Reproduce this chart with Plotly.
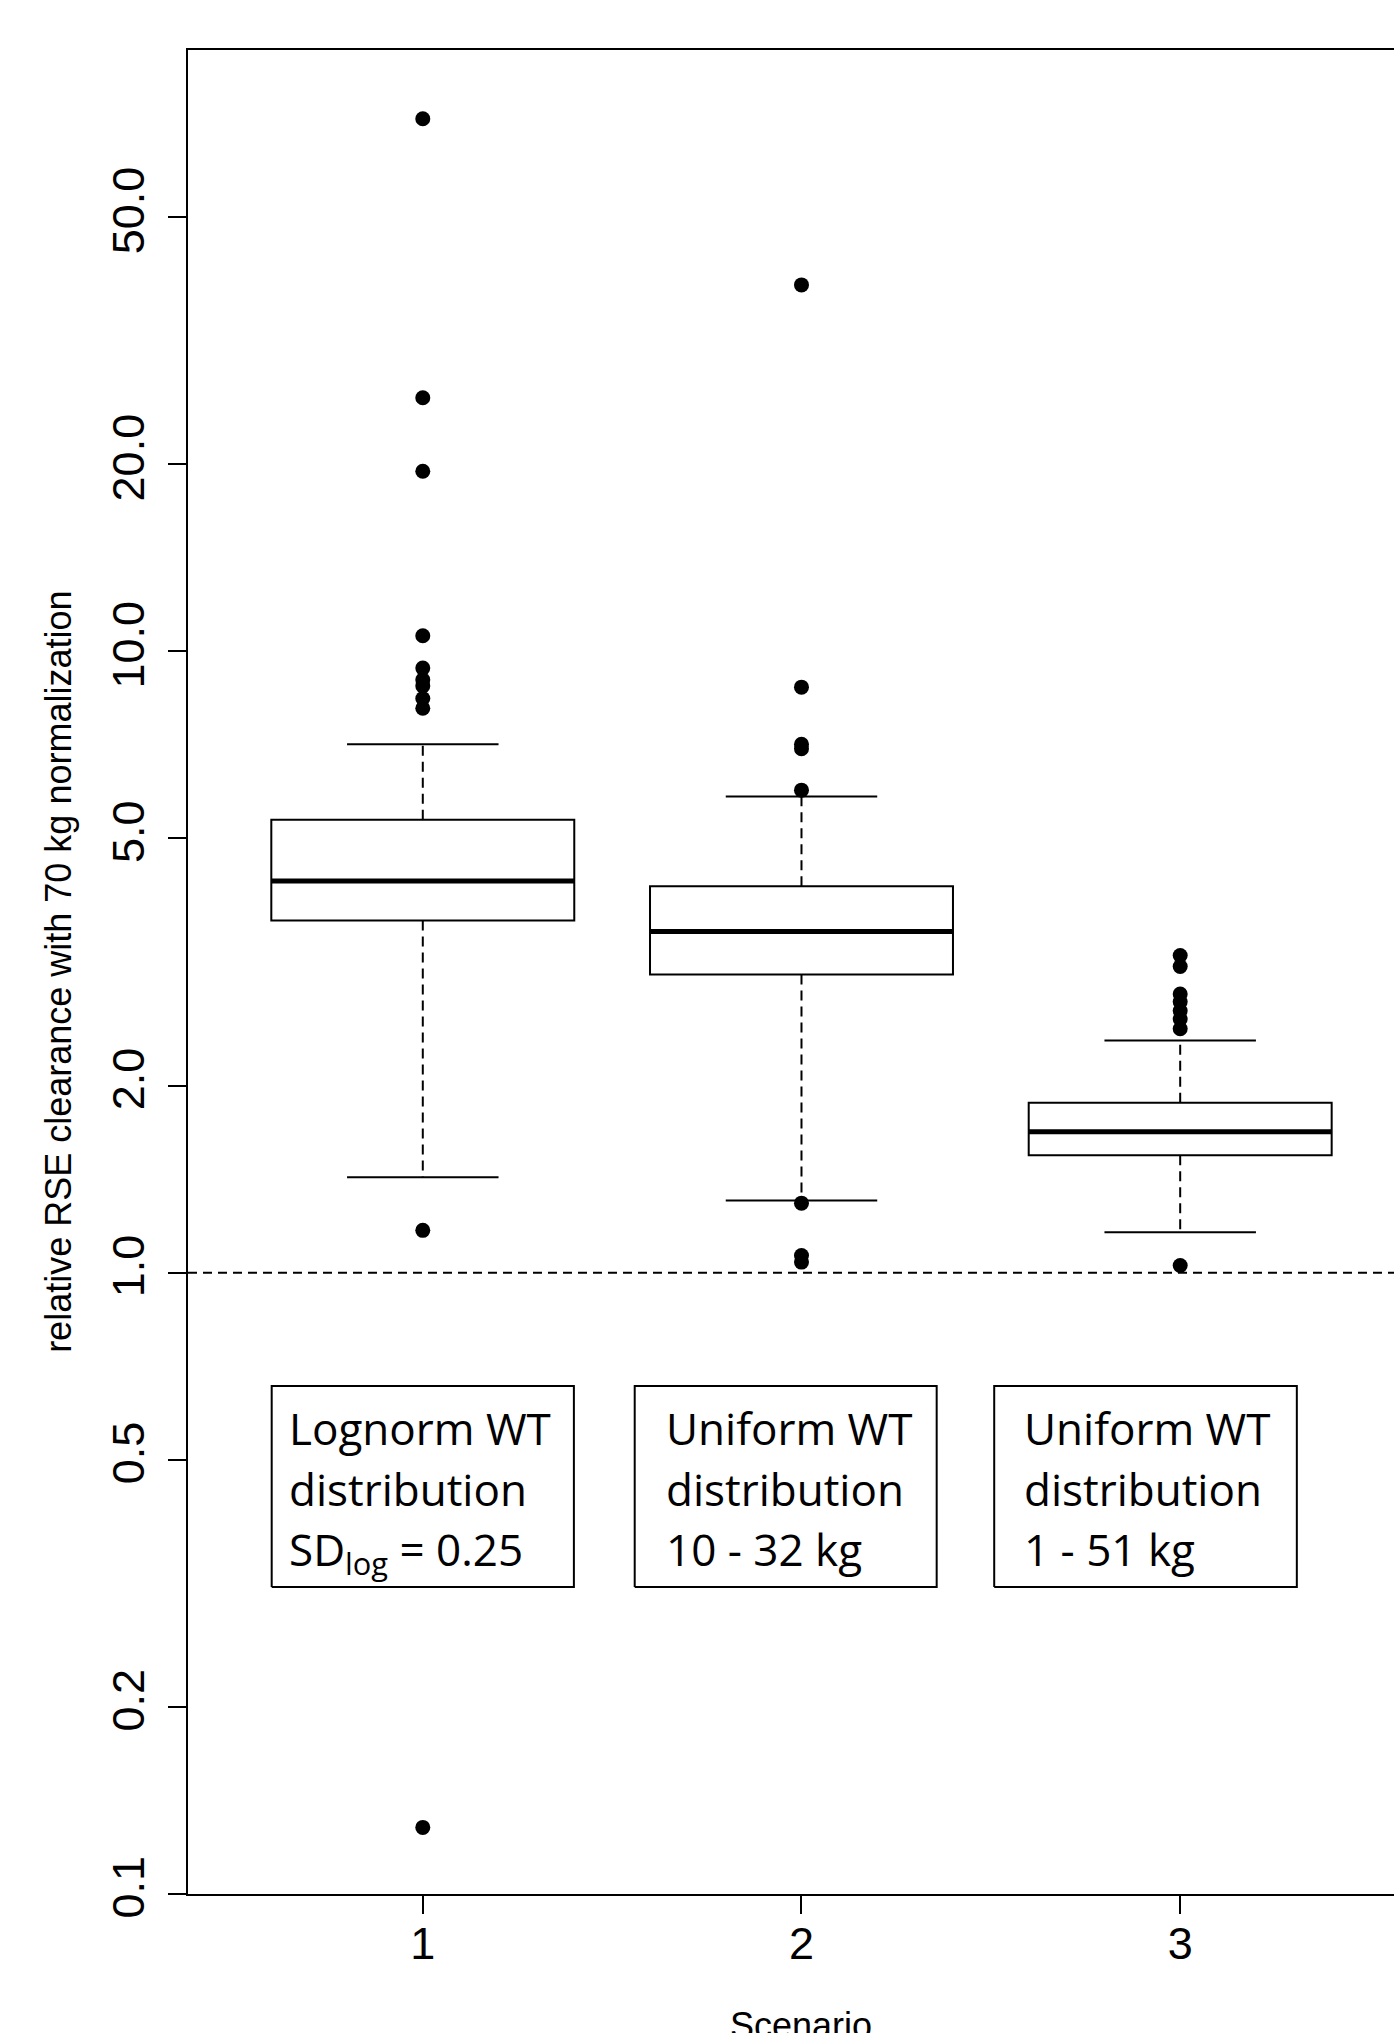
import plotly.graph_objects as go

# ---------------- data ----------------
scenarios = [1, 2, 3]
x_tick_labels = ["1", "2", "3"]

q1 = [3.69, 3.02, 1.546]
median = [4.27, 3.54, 1.686]
q3 = [5.36, 4.19, 1.877]
whisker_low = [1.424, 1.307, 1.162]
whisker_high = [7.09, 5.84, 2.364]

outliers_s1 = [72.0, 25.6, 19.5, 10.6, 9.4, 9.0, 8.8, 8.4, 8.1, 1.17, 0.128]
outliers_s2 = [38.9, 8.76, 7.09, 6.97, 5.98, 1.294, 1.066, 1.040]
outliers_s3 = [3.24, 3.11, 2.81, 2.73, 2.64, 2.56, 2.47, 1.027]
outliers = [outliers_s1, outliers_s2, outliers_s3]

reference_value = 1.0

y_tick_vals = [0.1, 0.2, 0.5, 1, 2, 5, 10, 20, 50]
y_tick_text = ["0.1", "0.2", "0.5", "1.0", "2.0", "5.0", "10.0", "20.0", "50.0"]

label_lines = [
    ["Lognorm WT", "distribution", "SD<sub>log</sub> = 0.25"],
    ["Uniform WT", "distribution", "10 - 32 kg"],
    ["Uniform WT", "distribution", "1 - 51 kg"],
]

# ---------------- layout constants ----------------
BOX_W = 0.8
CAP_W = 0.4
X_RANGE = [0.38, 3.5646]
Y_RANGE_LOG = [-1.0, 1.968]

label_box_x = [(0.601, 1.399), (1.5596, 2.357), (2.5089, 3.308)]
label_box_y = (0.312, 0.657)
label_text_x = [0.644, 1.6396, 2.5854]
label_line_log = [-0.200, -0.298, -0.394]

fig = go.Figure()

# whiskers (dashed) and caps
for i, s in enumerate(scenarios):
    fig.add_trace(go.Scatter(x=[s, s], y=[q3[i], whisker_high[i]], mode="lines",
                             line=dict(color="black", width=2, dash="10px,6px"),
                             showlegend=False, hoverinfo="skip"))
    fig.add_trace(go.Scatter(x=[s, s], y=[q1[i], whisker_low[i]], mode="lines",
                             line=dict(color="black", width=2, dash="10px,6px"),
                             showlegend=False, hoverinfo="skip"))
    for w in (whisker_high[i], whisker_low[i]):
        fig.add_trace(go.Scatter(x=[s - CAP_W / 2, s + CAP_W / 2], y=[w, w], mode="lines",
                                 line=dict(color="black", width=2),
                                 showlegend=False, hoverinfo="skip"))

# boxes
fig.add_trace(go.Box(x=scenarios, q1=q1, median=median, q3=q3,
                     lowerfence=q1, upperfence=q3, width=BOX_W,
                     fillcolor="white", line=dict(color="black", width=2),
                     boxpoints=False, showlegend=False, hoverinfo="skip"))

# thick medians
for i, s in enumerate(scenarios):
    fig.add_trace(go.Scatter(x=[s - BOX_W / 2, s + BOX_W / 2], y=[median[i], median[i]],
                             mode="lines", line=dict(color="black", width=5),
                             showlegend=False, hoverinfo="skip"))

# reference line at 1
fig.add_trace(go.Scatter(x=X_RANGE, y=[reference_value, reference_value], mode="lines",
                         line=dict(color="black", width=2, dash="9px,6px"),
                         showlegend=False, hoverinfo="skip"))

# outliers
for i, s in enumerate(scenarios):
    fig.add_trace(go.Scatter(x=[s] * len(outliers[i]), y=outliers[i], mode="markers",
                             marker=dict(color="black", size=15),
                             showlegend=False, hoverinfo="skip"))

# label boxes
for (x0, x1) in label_box_x:
    y0, y1 = label_box_y
    fig.add_trace(go.Scatter(x=[x0, x1, x1, x0, x0], y=[y0, y0, y1, y1, y0], mode="lines",
                             line=dict(color="black", width=2),
                             showlegend=False, hoverinfo="skip"))

annotations = []
for i in range(3):
    for j, line in enumerate(label_lines[i]):
        annotations.append(dict(x=label_text_x[i], y=label_line_log[j], xref="x", yref="y",
                                text=line, showarrow=False, xanchor="left", yanchor="top",
                                align="left", borderpad=0,
                                font=dict(family="Open Sans", size=44, color="black")))

# axis titles
annotations.append(dict(x=2, xref="x", y=-0.0593, yref="paper", text="Scenario",
                        showarrow=False, xanchor="center", yanchor="top",
                        font=dict(family="Liberation Sans, Arial", size=36, color="black")))
annotations.append(dict(x=-0.1079, xref="paper", y=0.5, yref="paper",
                        text="relative RSE clearance with 70 kg normalization",
                        textangle=-90, showarrow=False, xanchor="center", yanchor="middle",
                        font=dict(family="Liberation Sans, Arial", size=36, color="black")))

fig.update_layout(
    width=1394, height=2033,
    margin=dict(l=188, r=0, t=50, b=139),
    paper_bgcolor="white", plot_bgcolor="white",
    showlegend=False,
    hovermode=False,
    annotations=annotations,
    font=dict(family="Liberation Sans, Arial", color="black"),
    xaxis=dict(range=X_RANGE, tickvals=scenarios, ticktext=x_tick_labels,
               showgrid=False, zeroline=False, showline=True, linecolor="black", linewidth=2,
               mirror=True, ticks="outside", ticklen=18, tickwidth=2, tickcolor="black",
               ticklabelstandoff=-9,
               tickfont=dict(size=45, family="Liberation Sans, Arial")),
    yaxis=dict(type="log", range=Y_RANGE_LOG, tickvals=y_tick_vals, ticktext=y_tick_text,
               showgrid=False, zeroline=False, showline=True, linecolor="black", linewidth=2,
               ticks="outside", ticklen=18, tickwidth=2, tickcolor="black", tickangle=-90,
               ticklabelstandoff=6,
               tickfont=dict(size=45, family="Liberation Sans, Arial")),
)

fig.write_html("out.html", config={"displayModeBar": False},
               post_script="document.body.style.margin='0';document.body.style.overflow='hidden';")
